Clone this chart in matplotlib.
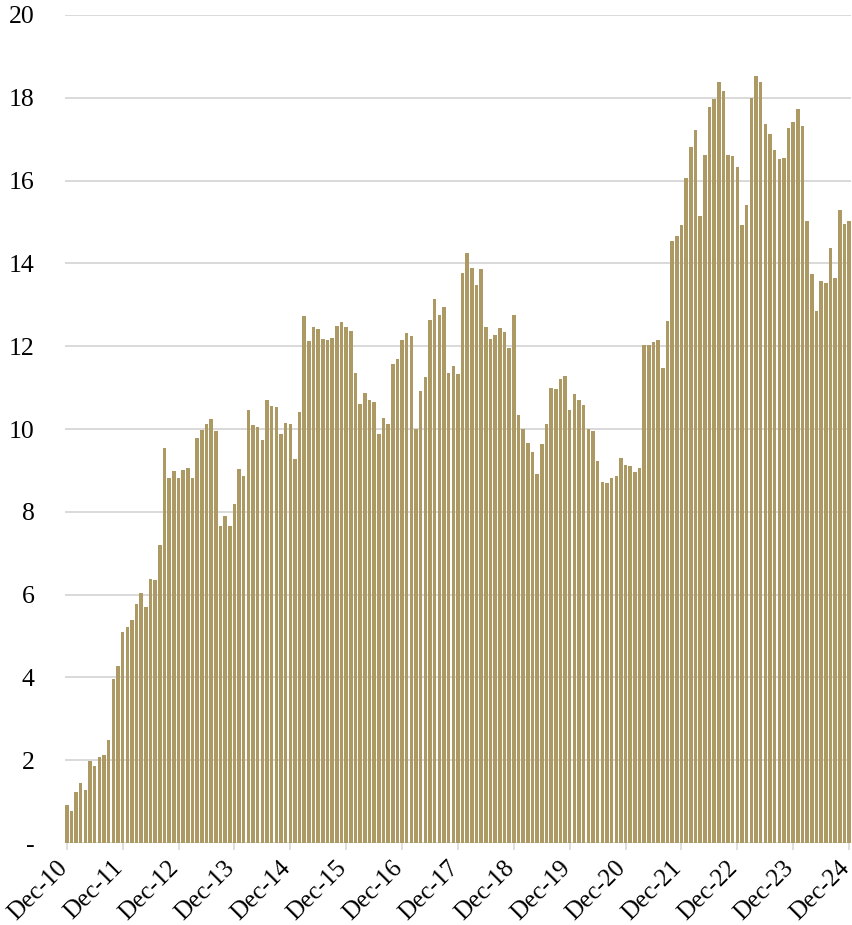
import numpy as np
import matplotlib
matplotlib.use('Agg')
import matplotlib.pyplot as plt
import matplotlib.transforms as mtrans

# monthly values, Dec-10 .. Dec-24
values = [
    0.92, 0.77, 1.23, 1.45, 1.27, 1.98, 1.87, 2.08, 2.13, 2.48, 3.96, 4.27,
    5.10, 5.21, 5.39, 5.77, 6.03, 5.71, 6.38, 6.36, 7.20, 9.55, 8.81, 8.99,
    8.81, 9.02, 9.07, 8.81, 9.79, 9.97, 10.12, 10.25, 9.96, 7.66, 7.90, 7.65,
    8.20, 9.04, 8.86, 10.45, 10.10, 10.04, 9.74, 10.70, 10.55, 10.54, 9.87, 10.15,
    10.13, 9.27, 10.42, 12.73, 12.13, 12.47, 12.41, 12.17, 12.14, 12.19, 12.49, 12.58,
    12.46, 12.36, 11.35, 10.60, 10.86, 10.69, 10.66, 9.88, 10.26, 10.11, 11.57, 11.70,
    12.15, 12.33, 12.24, 10.01, 10.92, 11.25, 12.63, 13.15, 12.76, 12.95, 11.36, 11.52,
    11.34, 13.77, 14.25, 13.90, 13.49, 13.86, 12.47, 12.18, 12.28, 12.44, 12.34, 11.96,
    12.75, 10.34, 9.99, 9.67, 9.45, 8.92, 9.63, 10.13, 10.98, 10.96, 11.21, 11.28,
    10.45, 10.85, 10.71, 10.59, 9.99, 9.96, 9.23, 8.72, 8.70, 8.81, 8.86, 9.31,
    9.14, 9.11, 8.96, 9.05, 12.02, 12.03, 12.10, 12.15, 11.47, 12.61, 14.54, 14.67,
    14.92, 16.06, 16.81, 17.22, 15.15, 16.62, 17.77, 17.96, 18.38, 18.16, 16.62, 16.59,
    16.32, 14.93, 15.41, 18.00, 18.53, 18.38, 17.37, 17.12, 16.73, 16.53, 16.54, 17.26,
    17.41, 17.73, 17.31, 15.03, 13.74, 12.85, 13.58, 13.53, 14.38, 13.65, 15.28, 14.94,
    15.03,
]
tick_labels = ['Dec-10', 'Dec-11', 'Dec-12', 'Dec-13', 'Dec-14', 'Dec-15', 'Dec-16',
               'Dec-17', 'Dec-18', 'Dec-19', 'Dec-20', 'Dec-21', 'Dec-22', 'Dec-23', 'Dec-24']
y_ticks = [0, 2, 4, 6, 8, 10, 12, 14, 16, 18, 20]
y_labels = ['-', '2', '4', '6', '8', '10', '12', '14', '16', '18', '20']

plt.rcParams['font.family'] = ['Liberation Serif', 'DejaVu Serif']

fig = plt.figure(figsize=(8.53, 9.25), dpi=100)
ax = fig.add_axes([0.0766, 0.0886, 0.9205, 0.8952])

x = np.arange(len(values))
ax.bar(x, values, width=0.76, color='#AD9963', zorder=3)

ax.set_xlim(-0.3, len(values) - 0.7)
ax.set_ylim(0, 20)

ax.set_yticks(y_ticks)
ax.set_yticklabels(y_labels, fontsize=18.5)
ax.yaxis.grid(True, color='#d9d9d9', linewidth=1.4, zorder=0)
ax.tick_params(axis='y', length=0, pad=22)

ax.set_xticks(np.arange(0, len(values), 12))
ax.set_xticklabels(tick_labels, fontsize=18, rotation=45, ha='right', va='center',
                   rotation_mode='anchor')
ax.tick_params(axis='x', length=5, width=1.2, color='#d9d9d9', pad=4)

# nudge the date labels down/left a little so the last one fits
shift = mtrans.ScaledTranslation(-3 / 100, -9 / 100, fig.dpi_scale_trans)
for lbl in ax.get_xticklabels():
    lbl.set_transform(lbl.get_transform() + shift)

for s in ['top', 'right', 'left', 'bottom']:
    ax.spines[s].set_visible(False)

fig.savefig('out.png', dpi=100)
